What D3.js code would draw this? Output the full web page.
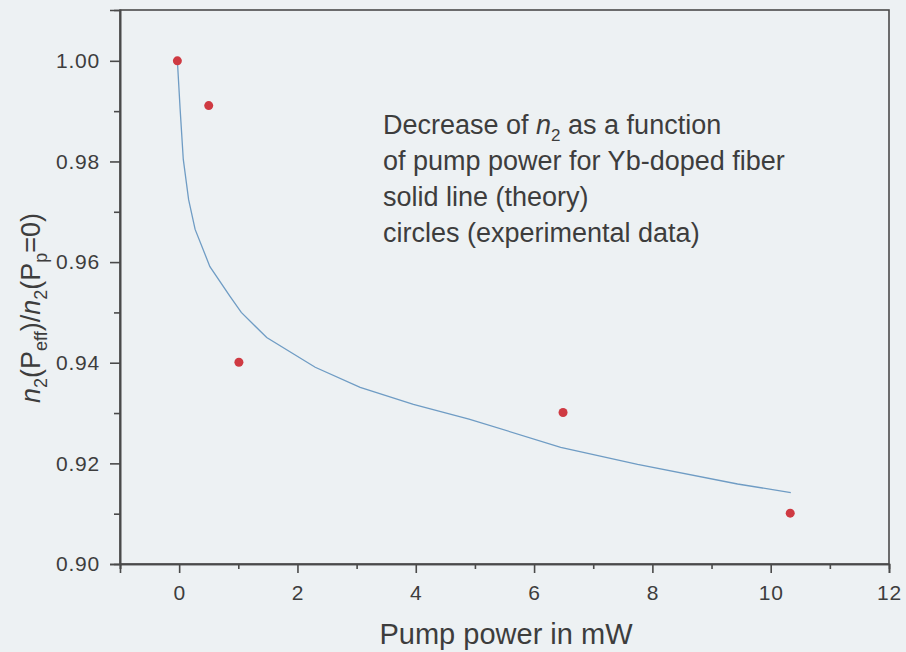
<!DOCTYPE html>
<html><head><meta charset="utf-8">
<script src="https://cdn.jsdelivr.net/npm/d3@7"></script>
<style>
html,body{margin:0;padding:0;background:#edf1f3;}
text{font-family:"Liberation Sans",Arial,sans-serif;fill:#3d3d3d;}
</style></head>
<body>
<svg id="chart" width="906" height="652"></svg>
<script>
// ---- data ----
const expX = [-0.03, 0.50, 1.01, 6.49, 10.33];
const expY = [1.000, 0.9911, 0.9401, 0.9301, 0.9101];
const theoryX = [-0.03, 0.017, 0.07, 0.16, 0.27, 0.52, 0.86, 1.05, 1.48, 2.30, 3.06, 3.96, 4.90, 6.45, 7.75, 9.44, 10.34];
const theoryY = [1.000, 0.9903, 0.9804, 0.9724, 0.9665, 0.9591, 0.9532, 0.9500, 0.9450, 0.9391, 0.9351, 0.9317, 0.9288, 0.9232, 0.9198, 0.9159, 0.9142];
const xTicks = [0, 2, 4, 6, 8, 10, 12];
const xMinor = [-1, 1, 3, 5, 7, 9, 11];
const yTicks = [0.90, 0.92, 0.94, 0.96, 0.98, 1.00];
const yMinor = [0.91, 0.93, 0.95, 0.97, 0.99];
const noteLines = ["Decrease of |n|2| as a function", "of pump power for Yb-doped fiber", "solid line (theory)", "circles (experimental data)"];

const W = 906, H = 652;
const m = {left: 120, top: 10, right: 17, bottom: 88};
const svg = d3.select("#chart");
const x = d3.scaleLinear().domain([-1, 12]).range([m.left, W - m.right]);
const y = d3.scaleLinear().domain([0.90, 1.0101]).range([H - m.bottom, m.top]);
const axisColor = "#4a4a4a";

// frame
svg.append("rect").attr("x", m.left).attr("y", m.top)
  .attr("width", W - m.right - m.left).attr("height", H - m.bottom - m.top)
  .attr("fill", "none").attr("stroke", axisColor).attr("stroke-width", 1.6);

// axes
const xAxis = svg.append("g").attr("transform", `translate(0,${H - m.bottom})`)
  .call(d3.axisBottom(x).tickValues(xTicks).tickFormat(d3.format("d")).tickSizeOuter(0).tickSize(9).tickPadding(12));
const xAxisMin = svg.append("g").attr("transform", `translate(0,${H - m.bottom})`)
  .call(d3.axisBottom(x).tickValues(xMinor).tickFormat("").tickSizeOuter(0).tickSize(5));
const yAxis = svg.append("g").attr("transform", `translate(${m.left},0)`)
  .call(d3.axisLeft(y).tickValues(yTicks).tickFormat(d3.format(".2f")).tickSizeOuter(0).tickSize(10).tickPadding(10));
const yAxisMin = svg.append("g").attr("transform", `translate(${m.left},0)`)
  .call(d3.axisLeft(y).tickValues(yMinor).tickFormat("").tickSizeOuter(0).tickSize(6));
[xAxis, xAxisMin, yAxis, yAxisMin].forEach(g => {
  g.select(".domain").attr("stroke", axisColor).attr("stroke-width", 1.6);
  g.selectAll(".tick line").attr("stroke", axisColor).attr("stroke-width", 1.6);
  g.selectAll(".tick text").attr("fill", "#3d3d3d").style("font-size", "21px")
    .style("letter-spacing", "0.8px")
    .style("font-family", '"Liberation Sans",Arial,sans-serif');
});

// theory line
const pts = theoryX.map((v, i) => [v, theoryY[i]]);
svg.append("path").datum(pts)
  .attr("fill", "none").attr("stroke", "#6f9cc4").attr("stroke-width", 1.3)
  .attr("d", d3.line().x(d => x(d[0])).y(d => y(d[1])));

// experimental circles
svg.selectAll("circle.exp").data(expX.map((v, i) => [v, expY[i]])).enter()
  .append("circle").attr("class", "exp")
  .attr("cx", d => x(d[0])).attr("cy", d => y(d[1])).attr("r", 4.5)
  .attr("fill", "#cf3a42");

// annotation
const note = svg.append("text").attr("x", 383).attr("y", 134).style("font-size", "27px");
noteLines.forEach((line, i) => {
  const t = note.append("tspan").attr("x", 383).attr("y", 134 + i * 36);
  const parts = line.split("|");
  if (parts.length === 1) { t.text(line); }
  else {
    t.text(parts[0]);
    note.append("tspan").attr("font-style", "italic").text(parts[1]);
    note.append("tspan").attr("dy", 7).style("font-size", "17px").text(parts[2]);
    note.append("tspan").attr("dy", -7).text(parts[3]);
  }
});

// x title
svg.append("text").attr("x", 506).attr("y", 644)
  .attr("text-anchor", "middle").style("font-size", "29px").text("Pump power in mW");

// y title
const yt = svg.append("text").attr("transform", `translate(40,308) rotate(-90)`)
  .attr("text-anchor", "middle").style("font-size", "27px");
yt.append("tspan").attr("font-style", "italic").text("n");
yt.append("tspan").attr("dy", 7).style("font-size", "18px").text("2");
yt.append("tspan").attr("dy", -7).text("(P");
yt.append("tspan").attr("dy", 7).style("font-size", "18px").text("eff");
yt.append("tspan").attr("dy", -7).text(")/");
yt.append("tspan").attr("font-style", "italic").text("n");
yt.append("tspan").attr("dy", 7).style("font-size", "18px").text("2");
yt.append("tspan").attr("dy", -7).text("(P");
yt.append("tspan").attr("dy", 7).style("font-size", "18px").text("p");
yt.append("tspan").attr("dy", -7).text("=0)");
</script>
</body></html>
